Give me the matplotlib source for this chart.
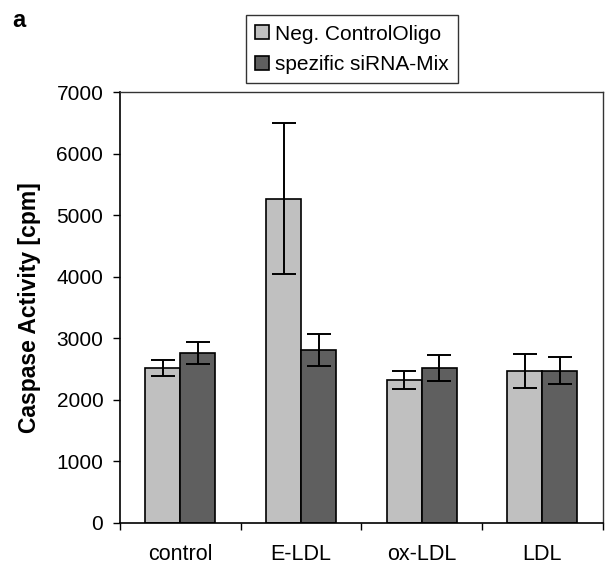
import numpy as np
import matplotlib
matplotlib.use("Agg")
import matplotlib.pyplot as plt

plt.rcParams["font.family"] = ["Liberation Sans", "DejaVu Sans"]

# Data
categories = ["control", "E-LDL", "ox-LDL", "LDL"]
neg_control = [2520, 5270, 2320, 2470]
neg_control_err = [135, 1230, 150, 280]
sirna_mix = [2760, 2810, 2520, 2470]
sirna_mix_err = [180, 255, 210, 220]

fig = plt.figure(figsize=(6.05, 5.64), dpi=100)
ax = fig.add_axes([0.1983, 0.0727, 0.798, 0.764])

x = np.arange(len(categories))
w = 0.29
err_kw = dict(ecolor="black", elinewidth=1.4, capsize=8.5, capthick=1.4)
ax.bar(x - w / 2, neg_control, w, yerr=neg_control_err, color="#c0c0c0",
       edgecolor="black", linewidth=1.2, label="Neg. ControlOligo", error_kw=err_kw)
ax.bar(x + w / 2, sirna_mix, w, yerr=sirna_mix_err, color="#5f5f5f",
       edgecolor="black", linewidth=1.2, label="spezific siRNA-Mix", error_kw=err_kw)

ax.set_xlim(-0.5, len(categories) - 0.5)
ax.set_ylim(0, 7000)
ax.set_yticks(np.arange(0, 7001, 1000))
ax.set_xticks(np.arange(-0.5, len(categories) - 0.4, 1.0))
ax.set_xticklabels([])
ax.set_xticks(x, minor=True)
ax.set_xticklabels(categories, minor=True)
ax.tick_params(axis="x", which="minor", length=0, pad=15, labelsize=15.5)
ax.tick_params(axis="x", which="major", length=5, direction="out", width=1)
ax.tick_params(axis="y", length=5, width=1, pad=7, labelsize=15)

for s in ["left", "bottom"]:
    ax.spines[s].set_linewidth(1.2)
for s in ["top", "right"]:
    ax.spines[s].set_linewidth(1.0)
    ax.spines[s].set_color("#333333")

ax.set_ylabel("Caspase Activity [cpm]", fontsize=16.5, fontweight="bold", labelpad=11)

leg = fig.legend(loc="upper left", bbox_to_anchor=(0.4066, 0.973), frameon=True,
                 fancybox=False, edgecolor="black", fontsize=15, handlelength=0.65,
                 handleheight=0.65, handletextpad=0.3, borderpad=0.45,
                 labelspacing=0.55, borderaxespad=0)
leg.get_frame().set_linewidth(1.0)

fig.text(0.02, 0.952, "a", fontsize=17, fontweight="bold", va="baseline")

plt.savefig("out.png", dpi=100)
